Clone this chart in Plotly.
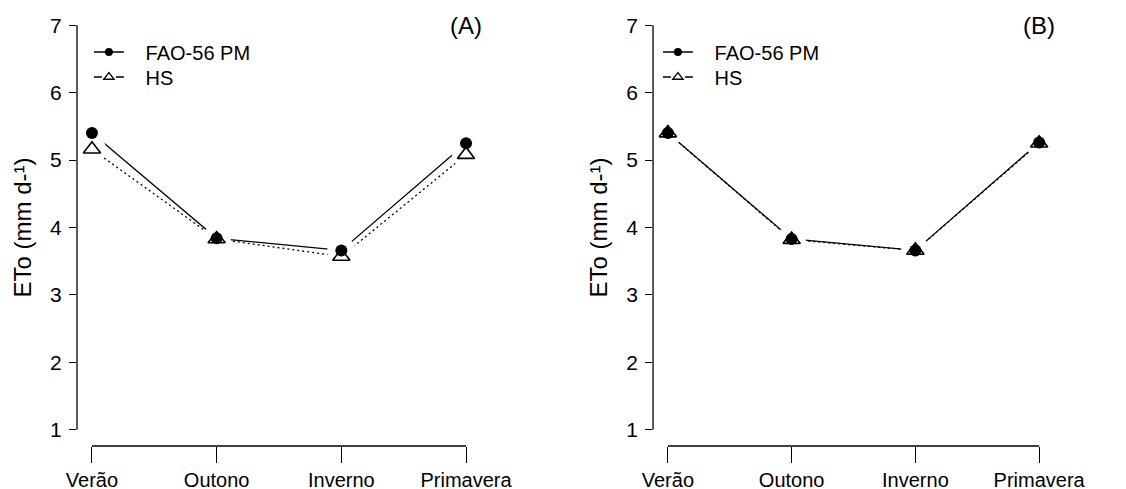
import plotly.graph_objects as go

seasons = ["Verão", "Outono", "Inverno", "Primavera"]
fao_a = [5.40, 3.84, 3.66, 5.25]
hs_a = [5.16, 3.83, 3.57, 5.08]
fao_b = [5.40, 3.83, 3.66, 5.26]
hs_b = [5.40, 3.82, 3.66, 5.25]
y_ticks = [1, 2, 3, 4, 5, 6, 7]
panel_labels = ["(A)", "(B)"]
series_names = ["FAO-56 PM", "HS"]

FONT = "Liberation Sans, Arial, sans-serif"
xidx = list(range(len(seasons)))
NB = "\u00a0" * 3

fig = go.Figure()

panels = [("x", "y", fao_a, hs_a, ("legend", "legend2")),
          ("x2", "y2", fao_b, hs_b, ("legend3", "legend4"))]
for xa, ya, fao, hs, legs in panels:
    fig.add_trace(go.Scatter(x=xidx, y=fao, mode="lines", xaxis=xa, yaxis=ya,
                             line=dict(color="black", width=1.3), showlegend=False, hoverinfo="skip"))
    fig.add_trace(go.Scatter(x=xidx, y=hs, mode="lines", xaxis=xa, yaxis=ya,
                             line=dict(color="black", width=1.3, dash="2px,3px"), showlegend=False, hoverinfo="skip"))
    for ser in (fao, hs):
        fig.add_trace(go.Scatter(x=xidx, y=ser, mode="markers", xaxis=xa, yaxis=ya,
                                 marker=dict(color="white", size=28, line=dict(width=0)),
                                 showlegend=False, hoverinfo="skip"))
    fig.add_trace(go.Scatter(x=xidx, y=fao, mode="markers", xaxis=xa, yaxis=ya,
                             marker=dict(symbol="circle", color="black", size=12),
                             showlegend=False, name=series_names[0]))
    fig.add_trace(go.Scatter(x=xidx, y=hs, mode="markers", xaxis=xa, yaxis=ya,
                             marker=dict(symbol="triangle-up-open", color="black", size=15,
                                         line=dict(width=1.6, color="black")),
                             showlegend=False, name=series_names[1]))
    fig.add_trace(go.Scatter(x=[None], y=[None], mode="lines+markers", xaxis=xa, yaxis=ya,
                             name=NB + series_names[0], legend=legs[0],
                             line=dict(color="black", width=1.3),
                             marker=dict(symbol="circle", color="black", size=8)))
    fig.add_trace(go.Scatter(x=[None], y=[None], mode="lines+markers", xaxis=xa, yaxis=ya,
                             name=NB + series_names[1], legend=legs[1],
                             line=dict(color="black", width=1.3, dash="8px,14px"),
                             marker=dict(symbol="triangle-up-open", color="black", size=9,
                                         line=dict(width=1.3, color="black"))))

xaxis_common = dict(range=[-0.12, len(seasons) - 1 + 0.12], tickvals=xidx, ticktext=seasons,
                    showgrid=False, zeroline=False, showline=False, ticks="outside",
                    ticklen=16, tickwidth=1.3, tickcolor="black", automargin=False,
                    tickfont=dict(family=FONT, size=20, color="black"), ticklabelstandoff=0)
yaxis_common = dict(range=[0.76, 7.24], tickvals=y_ticks, showgrid=False, zeroline=False,
                    showline=False, ticks="outside", ticklen=7, tickwidth=1.3, tickcolor="black",
                    automargin=False,
                    tickfont=dict(family=FONT, size=21, color="black"), ticklabelstandoff=3,
                    title=dict(text="ETo (mm d-¹)", font=dict(family=FONT, size=24, color="black"),
                               standoff=11))

# page body has an 8px margin in the browser; plot area placed accordingly
M_L, M_T, M_R, M_B = 69, 1, 80, 51
PLOT_H = 489 - M_T - M_B


def leg(xfrac, ypx):
    return dict(x=xfrac, y=1 - (ypx - 8 - M_T) / PLOT_H, xanchor="left", yanchor="middle",
                bgcolor="rgba(0,0,0,0)", borderwidth=0,
                font=dict(family=FONT, size=20, color="black"))


fig.update_layout(
    template="none",
    width=1126, height=489,
    margin=dict(l=M_L, r=M_R, t=M_T, b=M_B, autoexpand=False),
    paper_bgcolor="white", plot_bgcolor="white",
    xaxis=dict(domain=[0, 0.4135], anchor="y", **xaxis_common),
    yaxis=dict(domain=[0, 1], anchor="x", **yaxis_common),
    xaxis2=dict(domain=[0.5896, 1], anchor="y2", **xaxis_common),
    yaxis2=dict(domain=[0, 1], anchor="x2", **yaxis_common),
    legend=leg(0.0122, 52),
    legend2=leg(0.0122, 77),
    legend3=leg(0.5896 + 0.005, 52),
    legend4=leg(0.5896 + 0.005, 77),
    showlegend=True,
)

for xa, ya in (("x", "y"), ("x2", "y2")):
    fig.add_shape(type="line", xref=f"{xa} domain", yref=ya, x0=0, x1=0,
                  y0=min(y_ticks), y1=max(y_ticks), line=dict(color="black", width=1.3))
    fig.add_shape(type="line", xref=xa, yref=f"{ya} domain", x0=xidx[0], x1=xidx[-1],
                  y0=0, y1=0, line=dict(color="black", width=1.3))

for (xa, ya), lab in zip((("x", "y"), ("x2", "y2")), panel_labels):
    fig.add_annotation(x=xidx[-1], y=max(y_ticks), xref=xa, yref=ya, text=lab, showarrow=False,
                       font=dict(family=FONT, size=24, color="black"))

fig.write_html("out.html")
